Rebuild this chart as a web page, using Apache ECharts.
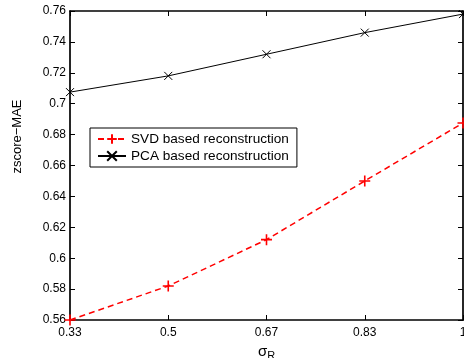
<!DOCTYPE html>
<html><head><meta charset="utf-8">
<script src="https://cdn.jsdelivr.net/npm/echarts@6/dist/echarts.min.js"></script>
<style>html,body{margin:0;padding:0;background:#fff}#c{width:464px;height:358px}</style>
</head><body><div id="c"></div>
<script>
const categories = ['0.33', '0.5', '0.67', '0.83', '1'];
const svdValues = [0.560, 0.582, 0.612, 0.650, 0.6875];
const pcaValues = [0.7075, 0.718, 0.732, 0.746, 0.758];
const yMin = 0.56, yMax = 0.76, yStep = 0.02;

const plusPath = 'path://M0,5L10,5M5,0L5,10';
const crossPath = 'path://M0,0L10,10M10,0L0,10';
const font = 'Liberation Sans, Arial, Helvetica, sans-serif';
const axisW = 1.7;

const chart = echarts.init(document.getElementById('c'), null, {renderer: 'canvas'});
chart.setOption({
  animation: false,
  backgroundColor: '#fff',
  grid: {left: 70, top: 11, right: 1, bottom: 38, show: false, outerBoundsMode: 'none', containLabel: false},
  legend: {
    orient: 'vertical', left: 90, top: 128, width: 208,
    backgroundColor: '#fff', borderColor: '#000', borderWidth: 1,
    padding: [4, 8, 4, 7], itemGap: 3, itemWidth: 28, itemHeight: 12,
    textStyle: {fontFamily: font, fontSize: 13.6, color: '#000'},
    data: ['SVD based reconstruction', 'PCA based reconstruction']
  },
  xAxis: [{
    type: 'category', data: categories, boundaryGap: false,
    name: '{s|σ}{b|R}', nameLocation: 'middle', nameGap: 19,
    nameTextStyle: {rich: {s: {fontFamily: font, fontSize: 15, color: '#000'}, b: {fontFamily: font, fontSize: 11, color: '#000', verticalAlign: 'bottom', padding: [9, 0, 0, 0]}}},
    axisLine: {lineStyle: {color: '#000', width: axisW}},
    axisTick: {inside: true, length: 5, lineStyle: {color: '#000'}},
    axisLabel: {color: '#000', fontFamily: font, fontSize: 12, margin: 7},
    splitLine: {show: false}
  }, {
    type: 'category', data: categories, boundaryGap: false, position: 'top',
    axisLine: {lineStyle: {color: '#000', width: axisW}},
    axisTick: {inside: true, length: 5, lineStyle: {color: '#000'}},
    axisLabel: {show: false}
  }],
  yAxis: [{
    type: 'value', min: yMin, max: yMax, interval: yStep,
    name: 'zscore−MAE', nameLocation: 'middle', nameGap: 46,
    nameTextStyle: {fontFamily: font, fontSize: 13, color: '#000', padding: [0, 0, 0, 58]},
    axisLine: {show: true, lineStyle: {color: '#000', width: axisW}},
    axisTick: {show: true, inside: true, length: 5, lineStyle: {color: '#000'}},
    axisLabel: {color: '#000', fontFamily: font, fontSize: 12, margin: 4, formatter: v => String(+v.toFixed(2))},
    splitLine: {show: false}
  }, {
    type: 'value', min: yMin, max: yMax, interval: yStep, position: 'right',
    axisLine: {show: true, lineStyle: {color: '#000', width: axisW}},
    axisTick: {show: true, inside: true, length: 5, lineStyle: {color: '#000'}},
    axisLabel: {show: false}, splitLine: {show: false}
  }],
  series: [{
    name: 'SVD based reconstruction', type: 'line', data: svdValues, clip: false,
    symbol: plusPath, symbolSize: 11, showAllSymbol: true,
    lineStyle: {color: '#ff0000', width: 1.5, type: [6, 4]},
    itemStyle: {color: '#ff0000', borderColor: '#ff0000', borderWidth: 1.6}
  }, {
    name: 'PCA based reconstruction', type: 'line', data: pcaValues, clip: false,
    symbol: crossPath, symbolSize: 8, showAllSymbol: true,
    lineStyle: {color: '#000', width: 1},
    itemStyle: {color: '#000', borderColor: '#000', borderWidth: 1}
  }]
});
</script></body></html>
